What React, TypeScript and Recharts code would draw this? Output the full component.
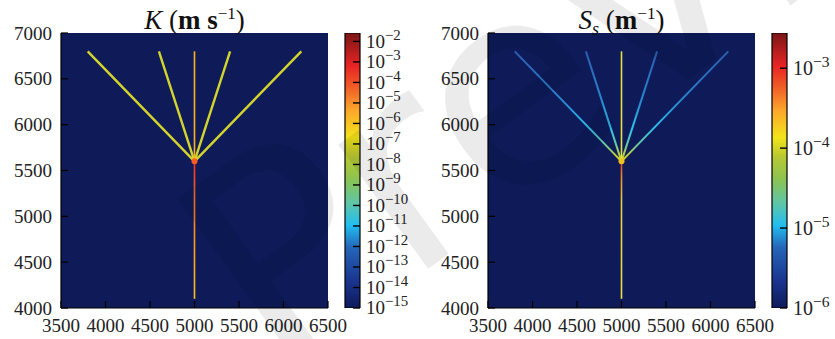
import React from "react";
import { Bar, BarChart, CartesianGrid, Line, LineChart, XAxis, YAxis } from "recharts";

const SERIF = "'Liberation Serif', 'DejaVu Serif', serif";
const NAVY = "#0e1b58";

// axes
const xTicks = [3500, 4000, 4500, 5000, 5500, 6000, 6500];
const yTicks = [4000, 4500, 5000, 5500, 6000, 6500, 7000];
const xDomain = [3500, 6500];
const yDomain = [4000, 7000];

// well geometry (m)
const trunkUpper = [{ x: 5000, y: 6800 }, { x: 5000, y: 5600 }];
const trunkLower = [{ x: 5000, y: 5600 }, { x: 5000, y: 4100 }];
const branchFarLeft = [{ x: 3800, y: 6800 }, { x: 5000, y: 5600 }];
const branchNearLeft = [{ x: 4600, y: 6800 }, { x: 5000, y: 5600 }];
const branchNearRight = [{ x: 5400, y: 6800 }, { x: 5000, y: 5600 }];
const branchFarRight = [{ x: 6200, y: 6800 }, { x: 5000, y: 5600 }];
const junction = [{ x: 5000, y: 5600 }];
const branches = [branchFarLeft, branchNearLeft, branchNearRight, branchFarRight];

// colorbars (log10 exponents)
const kTicks = [-2, -3, -4, -5, -6, -7, -8, -9, -10, -11, -12, -13, -14, -15];
const kBar = [{ name: "K", range: [-15, -1.59] }];
const ssTicks = [-3, -4, -5, -6];
const ssBar = [{ name: "Ss", range: [-6, -2.56] }];

const jetStops: [number, string][] = [
  [0, "#0e1a5a"],
  [0.1, "#1a3590"],
  [0.22, "#2566b8"],
  [0.3, "#22bdf0"],
  [0.38, "#5ec6a8"],
  [0.47, "#8cc450"],
  [0.55, "#b8c832"],
  [0.62, "#f2e41a"],
  [0.72, "#fca52c"],
  [0.8, "#f06028"],
  [0.88, "#e82424"],
  [1, "#7a1616"],
];

type Stop = [number, string];

function NumTick(props: any) {
  const { x, y, payload, anchor, dy } = props;
  return (
    <text x={x} y={y} dy={dy} textAnchor={anchor} fontFamily={SERIF} fontSize={19} fill="#222">
      {payload.value}
    </text>
  );
}

interface PanelProps {
  id: string;
  branchStroke: string;
  branchStops?: Stop[];
  branchWidth: number;
  upperStroke: string;
  lowerStops: Stop[];
  junctionFill: string;
}

function WellPanel(props: PanelProps) {
  const { id, branchStroke, branchStops, branchWidth, upperStroke, lowerStops, junctionFill } = props;
  const axisStyle = { stroke: "#000", strokeWidth: 1.2 };
  const bStroke = branchStops ? `url(#${id}-branch)` : branchStroke;
  return (
    <LineChart width={360} height={339} margin={{ top: 33, right: 32, bottom: 6, left: 0 }}>
      <defs>
        {branchStops && (
          <linearGradient id={`${id}-branch`} x1="0" y1="0" x2="0" y2="1">
            {branchStops.map(([o, c]) => (
              <stop key={o} offset={o} stopColor={c} />
            ))}
          </linearGradient>
        )}
        <linearGradient id={`${id}-lower`} gradientUnits="userSpaceOnUse" x1="0" y1="47%" x2="0" y2="89%">
          {lowerStops.map(([o, c]) => (
            <stop key={o} offset={o} stopColor={c} />
          ))}
        </linearGradient>
      </defs>
      <CartesianGrid fill={NAVY} horizontal={false} vertical={false} />
      <XAxis
        dataKey="x"
        type="number"
        domain={xDomain}
        ticks={xTicks}
        interval={0}
        height={25}
        tickSize={-7}
        tickMargin={18}
        axisLine={axisStyle}
        tickLine={axisStyle}
        tick={(p: any) => <NumTick {...p} anchor="middle" dy={13} />}
        allowDataOverflow
      />
      <XAxis
        xAxisId="top"
        orientation="top"
        dataKey="x"
        type="number"
        domain={xDomain}
        ticks={xTicks}
        interval={0}
        height={0}
        tickSize={-7}
        axisLine={axisStyle}
        tickLine={axisStyle}
        tick={false}
        allowDataOverflow
      />
      <YAxis
        type="number"
        domain={yDomain}
        ticks={yTicks}
        interval={0}
        width={61}
        tickSize={-7}
        tickMargin={16}
        axisLine={axisStyle}
        tickLine={axisStyle}
        tick={(p: any) => <NumTick {...p} anchor="end" dy={6.5} />}
        allowDataOverflow
      />
      <YAxis
        yAxisId="right"
        orientation="right"
        type="number"
        domain={yDomain}
        ticks={yTicks}
        interval={0}
        width={0}
        tickSize={-7}
        axisLine={axisStyle}
        tickLine={axisStyle}
        tick={false}
        allowDataOverflow
      />
      {branches.map((b, i) => (
        <Line
          key={i}
          data={b}
          dataKey="y"
          stroke={bStroke}
          strokeWidth={branchWidth}
          dot={false}
          isAnimationActive={false}
        />
      ))}
      <Line data={trunkUpper} dataKey="y" stroke={upperStroke} strokeWidth={1.6} dot={false} isAnimationActive={false} />
      <Line data={trunkLower} dataKey="y" stroke={`url(#${id}-lower)`} strokeWidth={1.6} dot={false} isAnimationActive={false} />
      <Line
        data={junction}
        dataKey="y"
        stroke="none"
        dot={{ r: 3, fill: junctionFill, stroke: "none" }}
        isAnimationActive={false}
      />
    </LineChart>
  );
}

function PowerTick(props: any) {
  const { x, y, payload, size } = props;
  return (
    <text x={x} y={y} dy={size * 0.33} textAnchor="start" fontFamily={SERIF} fontSize={size} fill="#222">
      10
      <tspan dy={-8} fontSize={size * 0.78}>{`\u2212${Math.abs(payload.value)}`}</tspan>
    </text>
  );
}

interface BarProps {
  id: string;
  data: { name: string; range: number[] }[];
  ticks: number[];
  size: number;
}

function ColorBar({ id, data, ticks, size }: BarProps) {
  const domain = data[0].range;
  return (
    <BarChart width={80} height={339} data={data} margin={{ top: 33, right: 0, bottom: 31, left: 5 }} barCategoryGap={0}>
      <defs>
        <linearGradient id={id} x1="0" y1="1" x2="0" y2="0">
          {jetStops.map(([o, c]) => (
            <stop key={o} offset={o} stopColor={c} />
          ))}
        </linearGradient>
      </defs>
      <XAxis dataKey="name" hide />
      <Bar dataKey="range" fill={`url(#${id})`} stroke="#000" strokeWidth={1.2} isAnimationActive={false} />
      <YAxis
        orientation="right"
        type="number"
        domain={domain}
        ticks={ticks}
        interval={0}
        width={60}
        tickSize={-7}
        tickMargin={13}
        axisLine={false}
        tickLine={{ stroke: "#000", strokeWidth: 1.4 }}
        tick={(p: any) => <PowerTick {...p} size={size} />}
        allowDataOverflow
      />
    </BarChart>
  );
}

const titleStyle: React.CSSProperties = {
  position: "absolute",
  top: 8,
  width: 267,
  textAlign: "center",
  fontFamily: SERIF,
  fontSize: 27,
  lineHeight: "24px",
  color: "#111",
  whiteSpace: "nowrap",
};
const supStyle: React.CSSProperties = { fontSize: 17, verticalAlign: "super", lineHeight: 0 };
const subStyle: React.CSSProperties = { fontSize: 18, verticalAlign: "sub", lineHeight: 0, fontStyle: "italic" };

export default function App() {
  return (
    <div style={{ position: "absolute", left: 0, top: 0, width: 835, height: 339, background: "#fff", overflow: "hidden" }}>
      <div style={{ position: "absolute", left: 0, top: 0 }}>
        <WellPanel
          id="k"
          branchStroke="#d4d42e"
          branchWidth={2.4}
          upperStroke="#ffb21e"
          lowerStops={[[0, "#f02a20"], [0.25, "#ff6a20"], [0.6, "#ff9a20"], [1, "#ffc020"]]}
          junctionFill="#ff5a20"
        />
      </div>
      <div style={{ position: "absolute", left: 340, top: 0 }}>
        <ColorBar id="jetK" data={kBar} ticks={kTicks} size={19} />
      </div>
      <div style={{ position: "absolute", left: 427, top: 0 }}>
        <WellPanel
          id="ss"
          branchStroke="#2c5cb0"
          branchStops={[[0, "#2c5cb0"], [0.45, "#2a86d0"], [0.7, "#2cc0ec"], [0.85, "#6ac8a0"], [0.95, "#c0d038"], [1, "#f0e020"]]}
          branchWidth={2}
          upperStroke="#e6e040"
          lowerStops={[[0, "#e83020"], [0.12, "#f08a28"], [0.3, "#e8d040"], [1, "#e8e040"]]}
          junctionFill="#f0c020"
        />
      </div>
      <div style={{ position: "absolute", left: 767, top: 0 }}>
        <ColorBar id="jetSs" data={ssBar} ticks={ssTicks} size={20} />
      </div>
      <div style={{ ...titleStyle, left: 61 }}>
        <i>K</i> (<b>m s</b>
        <span style={supStyle}>{"\u22121"}</span>)
      </div>
      <div style={{ ...titleStyle, left: 488 }}>
        <i>S</i>
        <span style={subStyle}>s</span> (<b>m</b>
        <span style={supStyle}>{"\u22121"}</span>)
      </div>
      <svg width={835} height={339} style={{ position: "absolute", left: 0, top: 0, pointerEvents: "none" }}>
        <text
          x={275}
          y={380}
          transform="rotate(-36 275 380)"
          fontFamily="'DejaVu Sans', sans-serif"
          fontSize={280}
          fill="#000"
          fillOpacity={0.08}
        >
          Preview
        </text>
      </svg>
    </div>
  );
}
